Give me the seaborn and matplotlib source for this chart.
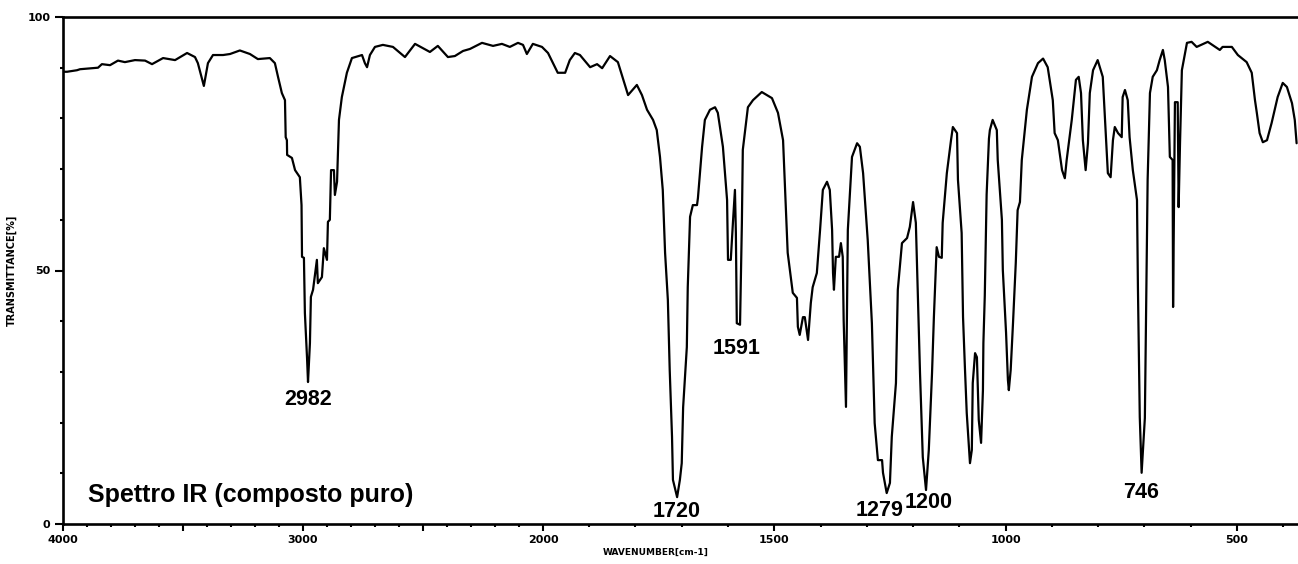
import numpy as np
import pandas as pd
import seaborn as sns
import matplotlib.pyplot as plt
from matplotlib.ticker import FixedLocator, FixedFormatter, MultipleLocator

# ----- DATA -----
wavenumber = [
    4000, 3983, 3942, 3929, 3854, 3838, 3804, 3771, 3742, 3700, 3658, 3629, 3583, 3533,
    3483, 3450, 3438, 3413, 3396, 3375, 3333, 3304, 3263, 3221, 3188, 3138, 3117, 3104,
    3088, 3075, 3072, 3067, 3066, 3046, 3033, 3013, 3006, 3004, 2996, 2992, 2983, 2979,
    2971, 2967, 2958, 2942, 2938, 2921, 2913, 2900, 2896, 2888, 2883, 2871, 2867, 2858,
    2854, 2850, 2838, 2817, 2796, 2754, 2742, 2733, 2721, 2700, 2667, 2625, 2575, 2533,
    2471, 2438, 2396, 2367, 2333, 2304, 2254, 2208, 2171, 2138, 2104, 2083, 2067, 2042,
    2004, 1989, 1968, 1952, 1942, 1931, 1920, 1898, 1883, 1872, 1855, 1838, 1816, 1797,
    1786, 1775, 1762, 1754, 1747, 1741, 1736, 1730, 1726, 1721, 1719, 1710, 1704, 1700,
    1697, 1689, 1687, 1682, 1676, 1667, 1665, 1656, 1650, 1639, 1628, 1622, 1611, 1602,
    1600, 1594, 1589, 1585, 1583, 1581, 1574, 1570, 1568, 1557, 1546, 1527, 1505, 1492,
    1481, 1471, 1460, 1451, 1449, 1445, 1438, 1434, 1427, 1421, 1417, 1408, 1401, 1395,
    1386, 1380, 1375, 1373, 1371, 1367, 1360, 1356, 1352, 1350, 1345, 1343, 1341, 1332,
    1321, 1315, 1308, 1298, 1289, 1283, 1276, 1267, 1265, 1257, 1250, 1246, 1237, 1233,
    1224, 1213, 1207, 1200, 1194, 1190, 1185, 1179, 1172, 1166, 1159, 1155, 1149, 1144,
    1138, 1136, 1127, 1118, 1114, 1105, 1103, 1095, 1092, 1088, 1084, 1077, 1073, 1071,
    1066, 1062, 1058, 1053, 1049, 1048, 1045, 1041, 1036, 1034, 1028, 1019, 1017, 1008,
    1006, 999, 995, 993, 989, 984, 978, 974, 969, 965, 954, 943, 930, 919,
    909, 898, 894, 887, 885, 878, 872, 868, 857, 848, 842, 837, 833, 827,
    822, 818, 811, 801, 790, 783, 779, 773, 768, 764, 757, 749, 747, 742,
    736, 732, 725, 716, 714, 710, 706, 699, 695, 693, 688, 682, 673, 667,
    660, 656, 649, 645, 639, 638, 634, 628, 626, 623, 619, 608, 598, 587,
    563, 537, 531, 511, 498, 479, 468, 461, 457, 451, 444, 435, 425, 412,
    401, 392, 381, 375, 371,
]
transmittance = [
    89.2, 89.2, 89.5, 89.7, 90.0, 90.7, 90.5, 91.4, 91.1, 91.5, 91.4, 90.7, 91.9, 91.5,
    92.9, 92.1, 90.9, 86.4, 90.9, 92.5, 92.5, 92.7, 93.4, 92.7, 91.7, 91.9, 90.9, 88.2,
    85.0, 83.6, 76.3, 75.7, 72.8, 72.2, 69.8, 68.4, 62.9, 52.7, 52.5, 41.6, 32.7, 28.0,
    35.7, 44.8, 46.2, 52.1, 47.5, 48.7, 54.4, 52.1, 59.6, 60.0, 69.8, 69.8, 64.9, 67.5,
    73.4, 79.7, 84.2, 89.0, 91.9, 92.5, 90.9, 90.1, 92.5, 94.1, 94.5, 94.1, 92.1, 94.7,
    93.1, 94.3, 92.1, 92.3, 93.3, 93.7, 94.9, 94.3, 94.7, 94.1, 94.9, 94.5, 92.7, 94.7,
    94.1, 92.9, 89.0, 89.0, 91.5, 92.9, 92.5, 90.1, 90.7, 89.9, 92.3, 91.1, 84.6, 86.6,
    84.6, 81.7, 79.7, 77.7, 72.4, 65.9, 53.5, 44.2, 30.4, 17.2, 8.7, 5.3, 8.7, 12.0,
    23.0, 34.9, 46.7, 60.6, 62.9, 62.9, 64.3, 74.4, 79.7, 81.7, 82.2, 81.1, 74.4, 63.9,
    52.1, 52.1, 60.0, 65.9, 57.4, 39.6, 39.3, 59.4, 73.8, 82.2, 83.6, 85.2, 84.0, 81.1,
    75.7, 53.5, 45.6, 44.6, 38.9, 37.3, 40.8, 40.8, 36.3, 43.6, 46.7, 49.5, 58.0, 65.9,
    67.5, 65.9, 58.0, 49.5, 46.2, 52.7, 52.7, 55.4, 52.7, 40.2, 23.1, 39.6, 58.0, 72.4,
    75.1, 74.4, 69.2, 56.0, 39.6, 19.9, 12.6, 12.6, 10.1, 6.1, 8.1, 17.2, 27.8, 46.2,
    55.4, 56.4, 58.6, 63.5, 59.4, 46.2, 29.8, 13.2, 6.7, 14.6, 29.8, 40.8, 54.6, 52.7,
    52.5, 59.4, 69.2, 75.7, 78.3, 77.1, 67.9, 57.4, 40.8, 31.0, 21.9, 12.0, 14.6, 27.8,
    33.7, 32.9, 20.5, 16.0, 26.4, 35.7, 45.0, 65.0, 76.0, 77.7, 79.7, 77.7, 71.8, 60.0,
    50.1, 37.7, 28.4, 26.4, 30.4, 39.6, 51.5, 61.9, 63.5, 71.8, 81.7, 88.2, 90.9, 91.8,
    90.1, 83.6, 77.1, 75.7, 74.4, 69.8, 68.2, 71.8, 79.7, 87.6, 88.2, 85.0, 75.7, 69.8,
    75.1, 85.0, 89.5, 91.5, 88.2, 76.3, 69.2, 68.4, 75.7, 78.3, 77.1, 76.3, 84.2, 85.6,
    83.6, 76.3, 69.8, 63.9, 46.7, 21.1, 10.1, 20.9, 52.1, 67.9, 85.0, 88.2, 89.5, 91.5,
    93.5, 91.5, 86.2, 72.4, 71.8, 42.8, 83.2, 83.2, 62.5, 75.1, 89.5, 94.9, 95.1, 94.1,
    95.1, 93.5, 94.1, 94.1, 92.5, 91.1, 89.0, 83.6, 81.1, 77.1, 75.3, 75.7, 79.1, 84.2,
    87.0, 86.2, 83.0, 79.7, 75.1,
]

peak_labels = ["2982", "1591", "1720", "1279", "1200", "746"]
peak_x = [2979, 1581, 1710, 1272, 1166, 708]
peak_y = [24.5, 34.7, 2.4, 2.6, 4.3, 6.3]

x_major = [4000, 3500, 3000, 2500, 2000, 1500, 1000, 500]
x_major_labels = ["4000", "", "3000", "", "2000", "1500", "1000", "500"]
y_major = [0, 50, 100]

df = pd.DataFrame({"wavenumber": wavenumber, "transmittance": transmittance})

# below 2000 cm-1 the chart is stretched
STRETCH = 1.928


def fwd(w):
    w = np.asarray(w, dtype=float)
    return np.where(w >= 2000, w, 2000 - (2000 - w) * STRETCH)


def inv(v):
    v = np.asarray(v, dtype=float)
    return np.where(v >= 2000, v, 2000 - (2000 - v) / STRETCH)


sns.set_style("ticks")
plt.rcParams['font.family'] = ['DejaVu Sans']
for key in ["text.color", "axes.labelcolor", "xtick.color", "ytick.color",
            "axes.edgecolor"]:
    plt.rcParams[key] = "black"

fig = plt.figure(figsize=(12.98, 5.64), dpi=100)
ax = fig.add_axes([63 / 1298, 40 / 564, 1235 / 1298, 507 / 564])

sns.lineplot(data=df, x="wavenumber", y="transmittance", color="black",
             linewidth=1.6, estimator=None, sort=False, ax=ax)

ax.set_xscale('function', functions=(fwd, inv))
ax.set_xlim(4000, 368)
ax.set_ylim(0, 100)

ax.xaxis.set_major_locator(FixedLocator(x_major))
ax.xaxis.set_major_formatter(FixedFormatter(x_major_labels))
ax.xaxis.set_minor_locator(MultipleLocator(100))
ax.yaxis.set_major_locator(FixedLocator(y_major))
ax.yaxis.set_minor_locator(MultipleLocator(10))

for side in ["left", "bottom", "top"]:
    ax.spines[side].set_linewidth(1.9)
ax.spines["right"].set_visible(False)

ax.tick_params(axis="both", which="major", direction="out", width=1.5,
               labelsize=8, pad=3, colors="black")
ax.tick_params(axis="x", which="major", length=5)
ax.tick_params(axis="y", which="major", length=6)
ax.tick_params(axis="both", which="minor", direction="out", width=1.5,
               length=2.5, colors="black")
for lab in ax.get_xticklabels() + ax.get_yticklabels():
    lab.set_fontweight("bold")

ax.set_xlabel("WAVENUMBER[cm-1]", fontsize=6.5, fontweight="bold")
ax.set_ylabel("TRANSMITTANCE[%]", fontsize=7, fontweight="bold")
ax.xaxis.set_label_coords(0.48, -0.048)
ax.yaxis.set_label_coords(-0.037, 0.5)

for lab, px, py in zip(peak_labels, peak_x, peak_y):
    ax.text(px, py, lab, ha="center", va="center", fontsize=15.5,
            fontweight="bold", family="Liberation Sans", color="black")

ax.text(0.02, 0.043, "Spettro IR (composto puro)", transform=ax.transAxes,
        ha="left", va="baseline", fontsize=18, fontweight="bold",
        family="Liberation Sans", color="black")

fig.savefig("out.png", dpi=100)
